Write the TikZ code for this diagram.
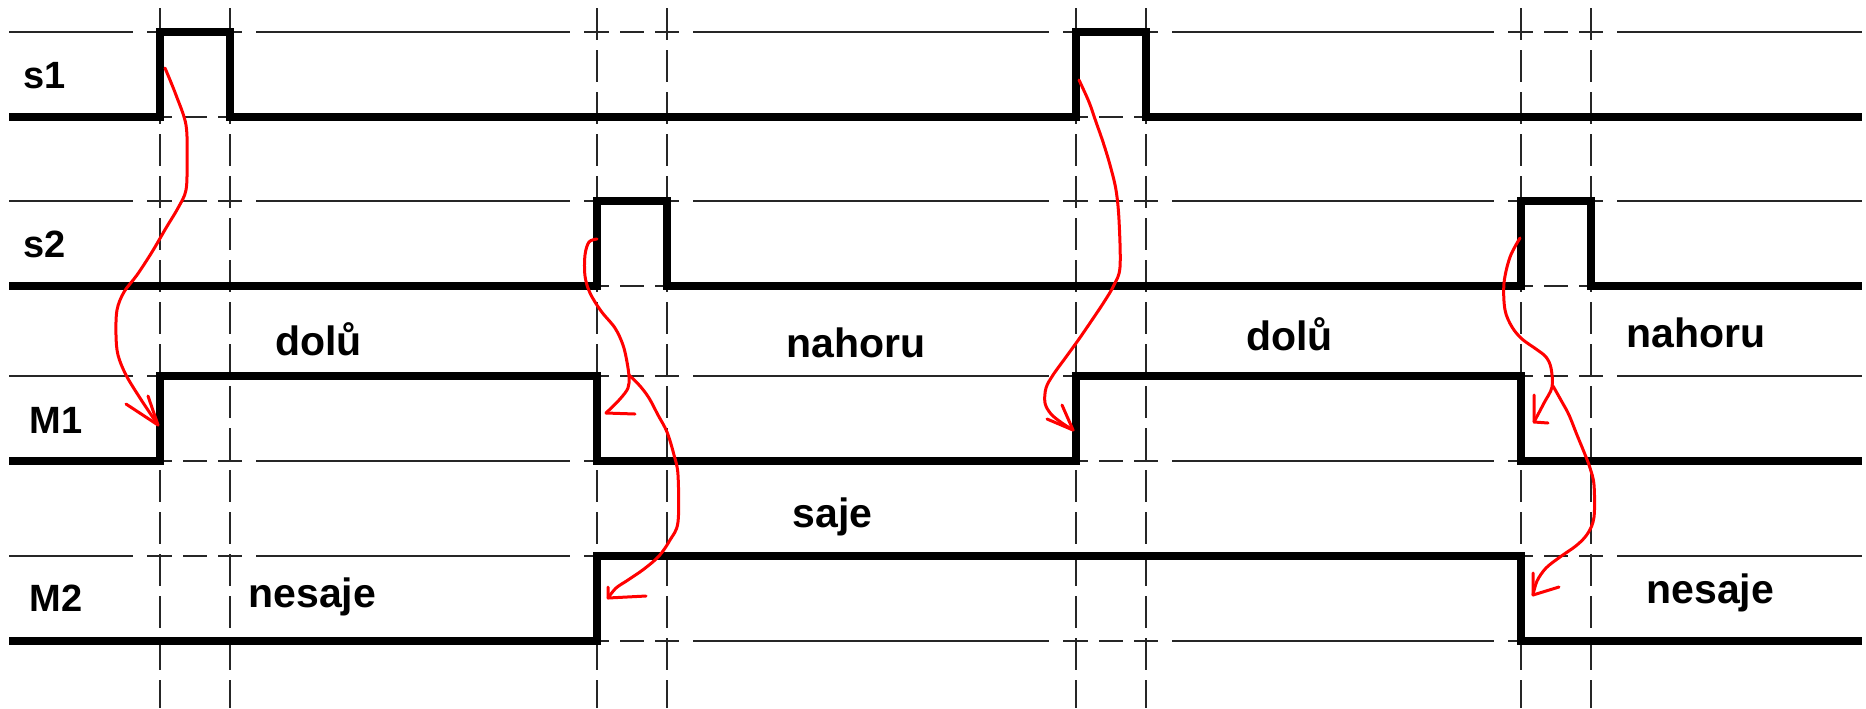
\documentclass[tikz,border=0pt]{standalone}
\usepackage{fontspec}
\setmainfont{Liberation Sans}
\begin{document}
\begin{tikzpicture}[x=0.5pt,y=-0.5pt,
  sigline/.style={line width=3.7pt, line join=miter},
  gridline/.style={line width=1pt, black!85},
  vline/.style={line width=0.9pt, black!85, dash pattern=on 16pt off 5pt},
  redline/.style={line width=1.5pt, red, line cap=round, line join=round},
  lbl/.style={font=\fontsize{19}{22}\selectfont\bfseries, inner sep=0pt, anchor=base west},
  txt/.style={font=\fontsize{20.5}{24}\selectfont\bfseries, inner sep=0pt, anchor=base west}]
\useasboundingbox (0,0) rectangle (1866,708);
\fill[white] (0,0) rectangle (1866,708);

% thin level lines
\foreach \y in {32,117,201,286,376,461,556,641}{
  \draw[gridline] (9,\y) -- (133,\y) (256,\y) -- (570,\y) (693,\y) -- (1049,\y) (1172,\y) -- (1494,\y) (1617,\y) -- (1862,\y);
  \foreach \p in {160,597,1076,1521}{
    \draw[gridline] (\p-13,\y) -- (\p+12,\y) (\p+23,\y) -- (\p+47,\y) (\p+58,\y) -- (\p+82,\y);
  }
}
% vertical event lines
\foreach \p in {160,230,597,667,1076,1146,1521,1591}{
  \draw[vline] (\p,8) -- (\p,708);
}

% signals
\draw[sigline] (9,117) -- (160,117) -- (160,32) -- (230,32) -- (230,117) -- (1076,117) -- (1076,32) -- (1146,32) -- (1146,117) -- (1862,117);
\draw[sigline] (9,286) -- (597,286) -- (597,201) -- (667,201) -- (667,286) -- (1521,286) -- (1521,201) -- (1591,201) -- (1591,286) -- (1862,286);
\draw[sigline] (9,461) -- (160,461) -- (160,376) -- (597,376) -- (597,461) -- (1076,461) -- (1076,376) -- (1521,376) -- (1521,461) -- (1862,461);
\draw[sigline] (9,641) -- (597,641) -- (597,556) -- (1521,556) -- (1521,641) -- (1862,641);

% labels
\node[lbl] (ls1) at (23,88) {s1};
\node[lbl] (ls2) at (23,257) {s2};
\node[lbl] (lm1) at (29,433) {M1};
\node[lbl] (lm2) at (29,611) {M2};
\node[txt] (t1) at (275,355) {dolů};
\node[txt] (t2) at (786,357) {nahoru};
\node[txt] (t3) at (1246,350) {dolů};
\node[txt] (t4) at (1626,347) {nahoru};
\node[txt] (t5) at (792,527) {saje};
\node[txt] (t6) at (248,607) {nesaje};
\node[txt] (t7) at (1646,603) {nesaje};

% red arrows
\coordinate (r1) at (158,425);
\draw[redline] plot[smooth, tension=0.55] coordinates {(165,68) (176,95) (186,125) (187,160) (186,190) (178,208) (166,228) (152,252) (137,275) (124,292) (117,310) (116,335) (118,355) (126,375) (140,398) (158,425)};
\draw[redline] (r1) -- (126,404) (r1) -- (148,396);

\coordinate (r2) at (606,413);
\draw[redline] plot[smooth, tension=0.55] coordinates {(597,239) (589,242) (585,255) (585,276) (590,293) (601,311) (615,328) (623,345) (627,362) (629,377) (628,388) (620,399) (606,413)};
\draw[redline] (r2) -- (635,414);
\coordinate (r3) at (608,598);
\draw[redline] plot[smooth, tension=0.55] coordinates {(629,375) (640,386) (649,398) (658,415) (667,432) (674,455) (678,475) (678,522) (670,540) (659,556) (644,569) (628,580) (616,588) (608,598)};
\draw[redline] (r3) -- (646,596) (r3) -- (608,587);

\coordinate (r4) at (1073,430);
\draw[redline] plot[smooth, tension=0.55] coordinates {(1079,80) (1089,102) (1096,122) (1103,142) (1110,165) (1116,190) (1119,220) (1120,267) (1114,285) (1104,302) (1092,320) (1079,339) (1066,357) (1053,375) (1046,388) (1045,403) (1051,414) (1062,423) (1073,430)};
\draw[redline] (r4) -- (1047,419) (r4) -- (1062,405);

\coordinate (r5) at (1534,422);
\draw[redline] plot[smooth, tension=0.55] coordinates {(1520,238) (1510,257) (1504,283) (1505,310) (1512,327) (1522,339) (1536,349) (1546,357) (1551,368) (1552,387) (1544,403) (1534,422)};
\draw[redline] (r5) -- (1534,395) (r5) -- (1548,423);
\coordinate (r6) at (1533,595);
\draw[redline] plot[smooth, tension=0.55] coordinates {(1553,386) (1562,402) (1569,415) (1577,435) (1584,452) (1590,468) (1594,485) (1594,517) (1588,533) (1577,545) (1560,557) (1546,568) (1537,581) (1533,595)};
\draw[redline] (r6) -- (1533,573) (r6) -- (1559,587);
\end{tikzpicture}
\end{document}
